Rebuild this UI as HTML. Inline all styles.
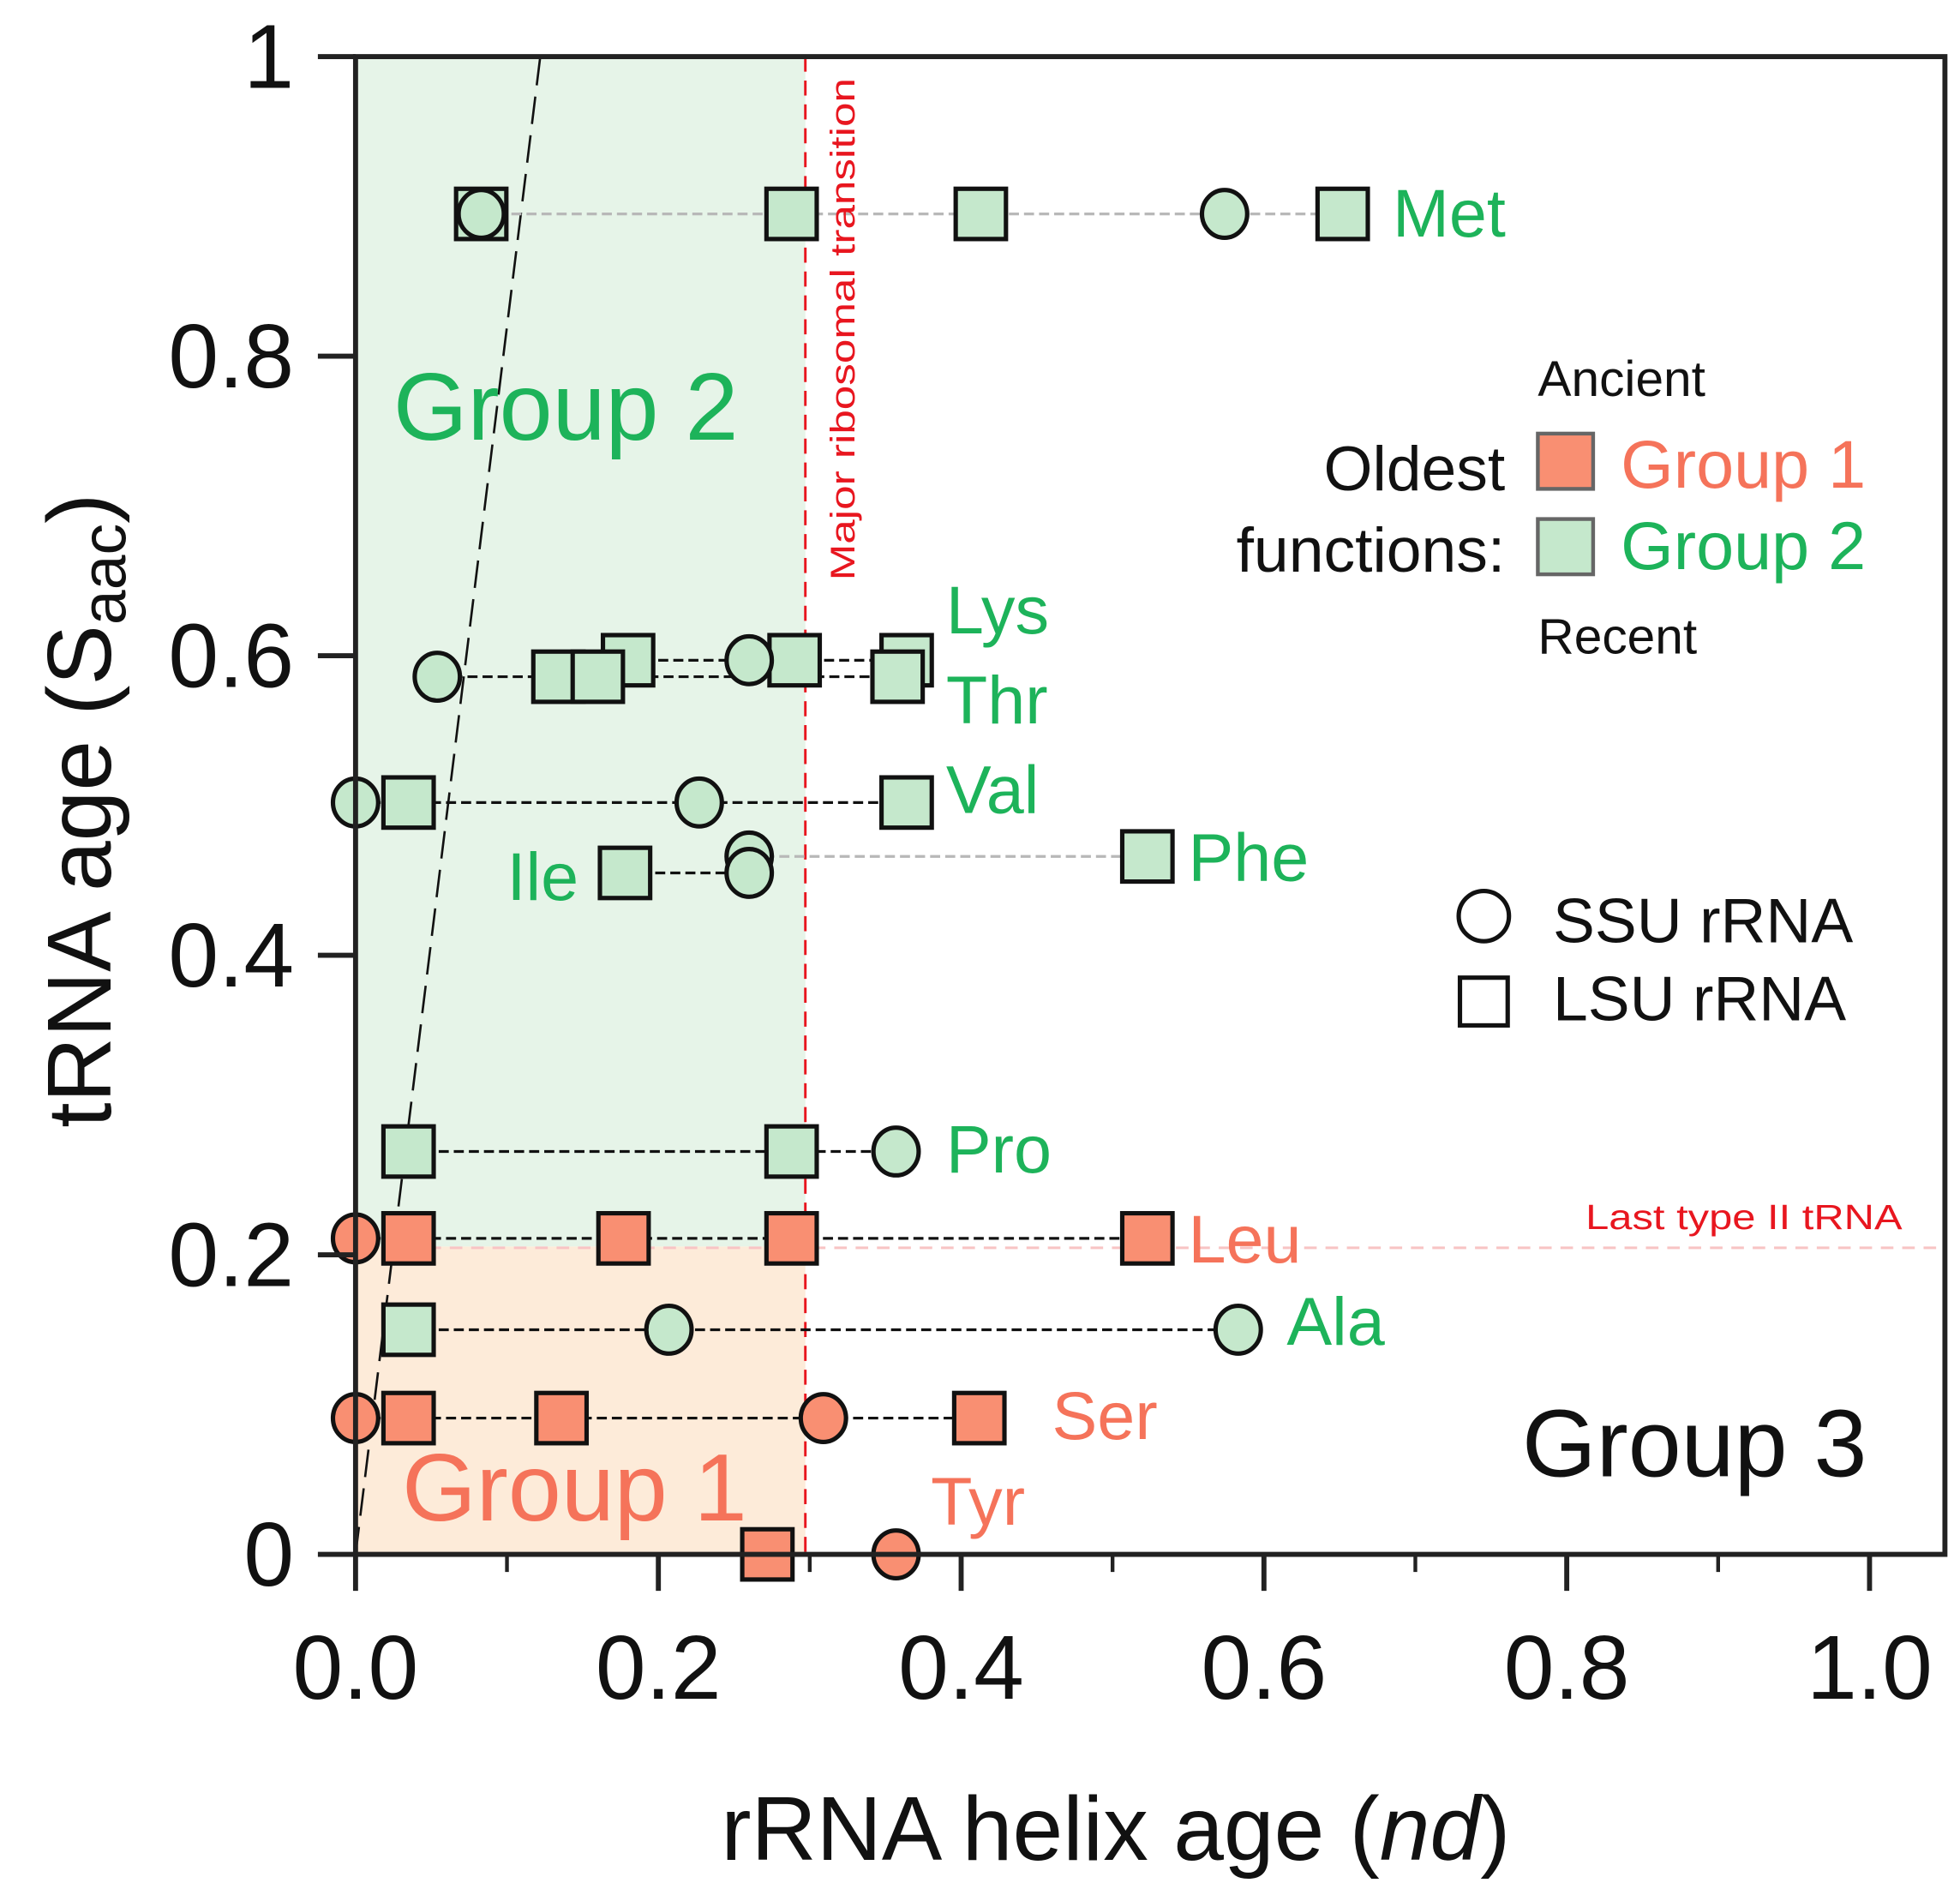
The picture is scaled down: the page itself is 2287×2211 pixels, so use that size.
<!DOCTYPE html>
<html><head><meta charset="utf-8"><style>
html,body{margin:0;padding:0;background:#fff;}
svg{display:block;font-family:"Liberation Sans",sans-serif;}
</style></head><body>
<svg id="chart" width="2287" height="2211" viewBox="0 0 1560 1508" xmlns="http://www.w3.org/2000/svg">
<g id="bg">
  <rect x="283" y="45" width="358" height="947" fill="#e6f4e8"/>
  <rect x="283" y="992" width="358" height="245" fill="#fdebd9"/>
  <line x1="290" y1="993" x2="1548" y2="993" stroke="#f8c4c4" stroke-width="2" stroke-dasharray="10,7"/>
  <line x1="641" y1="45" x2="641" y2="1237" stroke="#e8161f" stroke-width="2" stroke-dasharray="12,7"/>
  <line x1="283" y1="1237" x2="430" y2="45" stroke="#111" stroke-width="1.8" stroke-dasharray="22,9"/>
</g>
<g id="lines"></g>
<g id="marks"></g>
<g id="axes"></g>
<g>
  <text x="313" y="350" font-size="76" fill="#1db35a">Group 2</text>
  <text x="320" y="1210" font-size="76" fill="#f5735a">Group 1</text>
  <text x="1486" y="1175" font-size="76" fill="#111" text-anchor="end">Group 3</text>
  <text transform="translate(680,462) rotate(-90)" font-size="27" fill="#e8161f" textLength="400" lengthAdjust="spacingAndGlyphs">Major ribosomal transition</text>
  <text x="1262" y="978" font-size="28" fill="#e8161f" textLength="252" lengthAdjust="spacingAndGlyphs">Last type II tRNA</text>
</g>
<g>
  <text x="1224" y="315" font-size="40" fill="#111">Ancient</text>
  <text x="1198" y="390" font-size="50" fill="#111" text-anchor="end">Oldest</text>
  <text x="1198" y="455" font-size="50" fill="#111" text-anchor="end">functions:</text>
  <rect x="1224" y="345" width="44" height="44" fill="#f98f72" stroke="#666" stroke-width="3"/>
  <rect x="1224" y="413" width="44" height="44" fill="#c5e8cc" stroke="#666" stroke-width="3"/>
  <text x="1290" y="388" font-size="54" fill="#f5735a">Group 1</text>
  <text x="1290" y="453" font-size="54" fill="#1db35a">Group 2</text>
  <text x="1224" y="520" font-size="40" fill="#111">Recent</text>
  <circle cx="1181" cy="729" r="20" fill="#fff" stroke="#111" stroke-width="3.5"/>
  <text x="1236" y="750" font-size="50" fill="#111">SSU rRNA</text>
  <rect x="1162" y="778" width="38" height="38" fill="#fff" stroke="#111" stroke-width="3.5"/>
  <text x="1236" y="812" font-size="50" fill="#111">LSU rRNA</text>
</g>
</svg>
<script>
const rows=['Met','Lys','Thr','Val','Phe','Ile','Pro','Leu','Ala','Ser','Tyr'];
const rowY=[0.895,0.597,0.586,0.502,0.466,0.455,0.269,0.211,0.150,0.091,0];
const ssuX=[[0.083,0.574],[0.26],[0.054],[0,0.227],[0.26],[0.26],[0.357],[0],[0.207,0.583],[0,0.309],[0.357]];
const lsuX=[[0.083,0.288,0.413,0.652],[0.18,0.29,0.364],[0.134,0.16,0.358],[0.035,0.364],[0.523],[0.178],[0.035,0.288],[0.035,0.177,0.288,0.523],[0.035],[0.035,0.136,0.412],[0.272]];
const rowGroup=[2,2,2,2,2,2,2,1,2,1,1];
const grayRows=['Met','Phe'];
const labelX=[0.685,0.39,0.39,0.39,0.55,0.10,0.39,0.55,0.615,0.46,0.38];
const labelY=[0.895,0.63,0.57,0.51,0.465,0.452,0.27,0.21,0.155,0.092,0.035];
const xTicks=[0,0.2,0.4,0.6,0.8,1.0];
const xTickLabels=['0.0','0.2','0.4','0.6','0.8','1.0'];
const yTicks=[0,0.2,0.4,0.6,0.8,1];
const yTickLabels=['0','0.2','0.4','0.6','0.8','1'];

const NS='http://www.w3.org/2000/svg';
const X=v=>283+v*1205;
const Y=v=>1237-v*1192;
function mk(tag,attrs,parent){const e=document.createElementNS(NS,tag);for(const k in attrs)e.setAttribute(k,attrs[k]);parent.appendChild(e);return e;}
const gL=document.getElementById('lines'),gM=document.getElementById('marks'),gA=document.getElementById('axes');
const fills={1:'#f98f72',2:'#c5e8cc'};
const tcol={1:'#f5735a',2:'#1db35a'};
rows.forEach((r,i)=>{
  const all=ssuX[i].concat(lsuX[i]);
  const mn=Math.min(...all),mx=Math.max(...all);
  const ln=mk('line',{x1:X(mn),x2:X(mx),y1:Y(rowY[i]),y2:Y(rowY[i]),stroke:grayRows.includes(r)?'#b8b8b8':'#111','stroke-width':2.2,'stroke-dasharray':'8,4'},gL);
  
  
});
rows.forEach((r,i)=>{
  lsuX[i].forEach((v,j)=>{
    const s=mk('rect',{x:X(v)-20,y:Y(rowY[i])-20,width:40,height:40,fill:fills[rowGroup[i]],stroke:'#111','stroke-width':3.5},gM);
    
    
  });
});
rows.forEach((r,i)=>{
  ssuX[i].forEach((v,j)=>{
    const c=mk('ellipse',{cx:X(v),cy:Y(rowY[i]),rx:18,ry:19,fill:fills[rowGroup[i]],stroke:'#111','stroke-width':3.5},gM);
    
    
  });
  const t=mk('text',{x:X(labelX[i]),y:Y(labelY[i])+18,'font-size':54,fill:tcol[rowGroup[i]]},gM);
  t.textContent=r;
  
  
});
const fr=mk('path',{d:'M283 45 H1548 V1237 H283 Z',fill:'none',stroke:'#222','stroke-width':4},gA);


yTicks.forEach((v,i)=>{
  const tk=mk('line',{x1:253,x2:283,y1:Y(v),y2:Y(v),stroke:'#222','stroke-width':4},gA);
  
  
  const tl=mk('text',{x:234,y:Y(v)+25,'font-size':72,'text-anchor':'end',fill:'#111'},gA);
  tl.textContent=yTickLabels[i];
  
  
});
xTicks.forEach((v,i)=>{
  const tk=mk('line',{x1:X(v),x2:X(v),y1:1237,y2:1266,stroke:'#222','stroke-width':4},gA);
  
  
  if(i!==xTicks.length-1){
    const mt=mk('line',{x1:X(v+0.1),x2:X(v+0.1),y1:1237,y2:1251,stroke:'#222','stroke-width':3},gA);
    
    
  }
  const tl=mk('text',{x:X(v),y:1352,'font-size':72,'text-anchor':'middle',fill:'#111'},gA);
  tl.textContent=xTickLabels[i];
  
  
});
const xt=mk('text',{x:888,y:1480,'font-size':72,'text-anchor':'middle',fill:'#111'},gA);


xt.appendChild(document.createTextNode('rRNA helix age ('));
const it=mk('tspan',{'font-style':'italic'},xt);it.textContent='nd';
xt.appendChild(document.createTextNode(')'));
const yt=mk('text',{transform:'translate(88,645) rotate(-90)','font-size':72,'text-anchor':'middle',fill:'#111'},gA);


yt.appendChild(document.createTextNode('tRNA age (S'));
const sub=mk('tspan',{'font-size':50,dy:12},yt);sub.textContent='aac';
const cp=mk('tspan',{dy:-12},yt);cp.textContent=')';
</script>
</body></html>
